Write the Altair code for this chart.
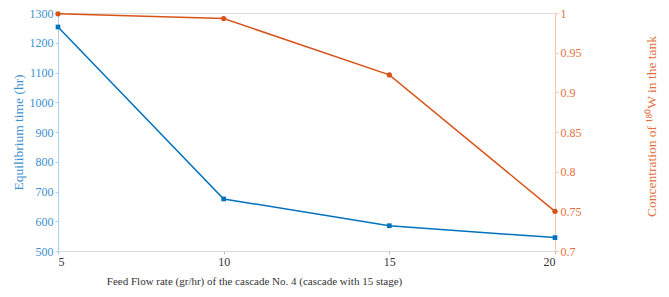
import altair as alt
import pandas as pd

feed = [5, 10, 15, 20]
eq_time = [1253, 675, 585, 545]
conc = [0.999, 0.993, 0.922, 0.750]

df = pd.DataFrame({"feed": feed, "time": eq_time, "conc": conc})

BLUE = "#0072BD"
ORANGE = "#D95319"
FONT = "Liberation Serif"

W, H = 497, 238

x = alt.X("feed:Q", scale=alt.Scale(domain=[5, 20], nice=False),
          axis=alt.Axis(values=[5, 10, 15, 20], title="Feed Flow rate (gr/hr) of the cascade No. 4 (cascade with 15 stage)",
                        grid=False, domainColor="#d9d9d9", tickColor="#bbbbbb", tickSize=3,
                        labelColor="#333333", titleColor="#333333", labelFontSize=12, titleFontSize=11,
                        titleX=196, titleY=30, titleBaseline="middle",
                        labelPadding=2, labelFont=FONT, titleFont=FONT))

base = alt.Chart(df).encode(x=x)

blue_line = base.mark_line(color=BLUE, strokeWidth=1.5, point=alt.OverlayMarkDef(shape="square", size=22, color=BLUE, filled=True)).encode(
    y=alt.Y("time:Q", scale=alt.Scale(domain=[500, 1300], nice=False),
            axis=alt.Axis(values=list(range(500, 1301, 100)), format="d", title="Equilibrium time (hr)", grid=False,
                          domainColor="#a9d3f2", tickColor="#a9d3f2", tickSize=3, labelColor="#3c8fd0",
                          titleColor="#3c8fd0", labelFontSize=12, titleFontSize=13.5,
                          titleX=-40, titleY=H / 2, titleBaseline="middle", titleAngle=270,
                          labelPadding=2, labelFont=FONT, titleFont=FONT))
)

orange_line = base.mark_line(color=ORANGE, strokeWidth=1.5, point=alt.OverlayMarkDef(shape="circle", size=28, color=ORANGE, filled=True)).encode(
    y=alt.Y("conc:Q", scale=alt.Scale(domain=[0.7, 1.0], nice=False),
            axis=alt.Axis(orient="right", values=[0.7, 0.75, 0.8, 0.85, 0.9, 0.95, 1.0], format="~g",
                          title="Concentration of ¹⁸⁰W  in the tank", grid=False,
                          titleX=96, titleY=H / 2 - 6, titleBaseline="middle", titleAngle=270,
                          domainColor="#f6c6b0", tickColor="#f6c6b0", tickSize=3, labelColor="#e2703e",
                          titleColor="#e2703e", labelFontSize=12, titleFontSize=13.5,
                          labelPadding=2, labelFont=FONT, titleFont=FONT))
)

chart = alt.layer(blue_line, orange_line).resolve_scale(y="independent").properties(
    width=W, height=H, autosize=alt.AutoSizeParams(type="none"),
    padding={"left": 50, "top": 5, "right": 106, "bottom": 38}
).configure_view(stroke="#d9d9d9", strokeWidth=1).configure(background="white", font=FONT).configure_axis(
    labelFont=FONT, titleFont=FONT, titleFontWeight="normal")

chart.save("out.html", embed_options={"renderer": "svg", "actions": False})
